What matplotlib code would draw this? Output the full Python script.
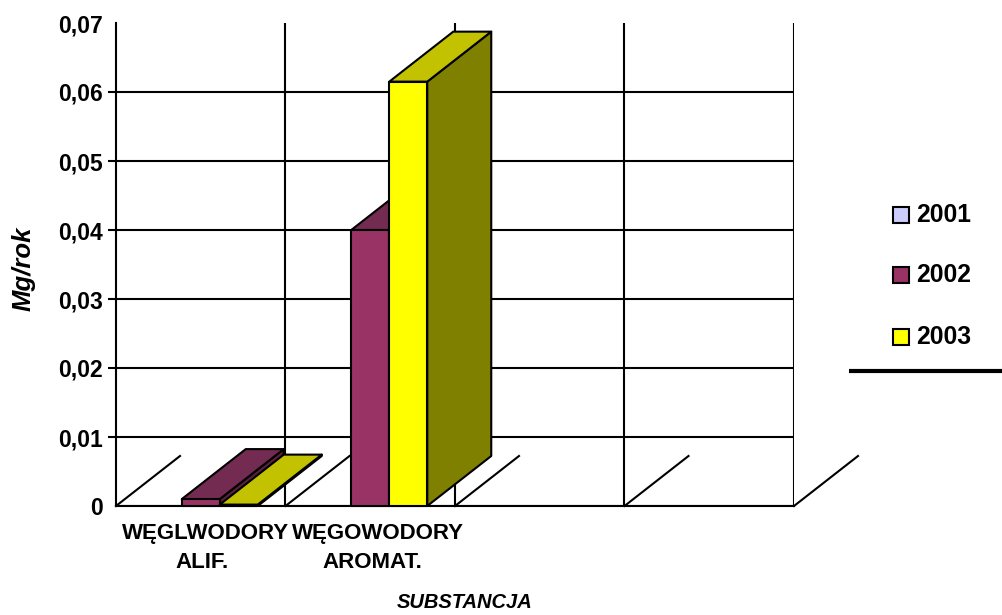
import numpy as np
import matplotlib
matplotlib.use("Agg")
import matplotlib.pyplot as plt
from matplotlib.patches import Polygon

plt.rcParams["font.family"] = ["Liberation Sans", "DejaVu Sans"]

categories = [["WĘGLWODORY", "ALIF."], ["WĘGOWODORY", "AROMAT."]]
years = ["2001", "2002", "2003"]
v2001 = [0.0, 0.0]
v2002 = [0.001, 0.04]
v2003 = [0.0002, 0.0615]
yticks = [0, 0.01, 0.02, 0.03, 0.04, 0.05, 0.06, 0.07]
ylabels = ["0", "0,01", "0,02", "0,03", "0,04", "0,05", "0,06", "0,07"]

front = ["#CCCCFF", "#993366", "#FFFF00"]
top = ["#A3A3CC", "#732B52", "#C2C200"]
side = ["#7A7A99", "#5C1F3D", "#808000"]

W, H = 1003, 615
fig = plt.figure(figsize=(W / 100, H / 100), dpi=100)
ax = fig.add_axes([116 / W, 1 - 506 / H, (794 - 116) / W, (506 - 23) / H])
ax.set_xlim(0, 4)
ax.set_ylim(0, 0.07)

# depth of the fake 3D box, in data units
dx = 64 / 169.5
dy = 50 / 69 * 0.01
bar_w = 38 / 169.5
lw = 1.5

ax.set_yticks(yticks)
ax.set_yticklabels(ylabels, fontsize=16.5, fontweight="bold")
ax.tick_params(axis="y", length=6, width=lw, pad=3.5)
ax.set_xticks([])
ax.grid(axis="y", color="black", lw=lw)
# no tick at the floor, no tick or gridline along the top
ticks = ax.yaxis.get_major_ticks()
ticks[0].tick1line.set_visible(False)
ticks[-1].tick1line.set_visible(False)
ticks[-1].gridline.set_visible(False)

for x in [1, 2, 3, 4]:
    ax.plot([x, x], [0, 0.07], color="black", lw=lw, zorder=1, solid_capstyle="butt")
for s in ["top", "right"]:
    ax.spines[s].set_visible(False)
for s in ["left", "bottom"]:
    ax.spines[s].set_linewidth(lw)

# slanted floor lines
for x in range(5):
    ax.plot([x, x + dx], [0, dy], color="black", lw=lw, clip_on=False, zorder=1)


def bar3d(x0, h, i, z):
    x1 = x0 + bar_w
    kw = dict(ec="black", lw=lw, clip_on=False, zorder=z, joinstyle="round")
    ax.add_patch(Polygon([(x1, 0), (x1 + dx, dy), (x1 + dx, h + dy), (x1, h)], fc=side[i], **kw))
    ax.add_patch(Polygon([(x0, h), (x0 + dx, h + dy), (x1 + dx, h + dy), (x1, h)], fc=top[i], **kw))
    ax.add_patch(Polygon([(x0, 0), (x1, 0), (x1, h), (x0, h)], fc=front[i], **kw))


for c in range(len(categories)):
    for i, vals in enumerate([v2001, v2002, v2003]):
        if vals[c] > 0:
            bar3d(c + 0.5 + (i - 1.5) * bar_w, vals[c], i, 3 + i)

# overlay in pixel coordinates for labels and legend
leg = fig.add_axes([0, 0, 1, 1])
leg.set_xlim(0, W)
leg.set_ylim(H, 0)
leg.axis("off")

for c, (cat, xs) in enumerate(zip(categories, [(206, 202), (378, 372)])):
    for line, x, y in zip(cat, xs, [533, 563]):
        leg.text(x, y, line, fontsize=16, fontweight="bold", ha="center", va="center")

leg.text(24, 269, "Mg/rok", fontsize=18.5, fontweight="bold", style="italic",
         rotation=90, ha="center", va="center")
leg.text(465, 603, "SUBSTANCJA", fontsize=14.5, fontweight="bold", style="italic",
         ha="center", va="center")

for name, color, y in zip(years, front, [214.5, 275, 336.5]):
    leg.add_patch(plt.Rectangle((893.5, y - 8), 16, 16, fc=color, ec="black", lw=1.5))
    leg.text(916, y, name, fontsize=17.8, fontweight="bold", va="center", ha="left")
leg.plot([849, 1003], [371, 371], color="black", lw=3, solid_capstyle="butt")

fig.savefig("out.png", dpi=100)
